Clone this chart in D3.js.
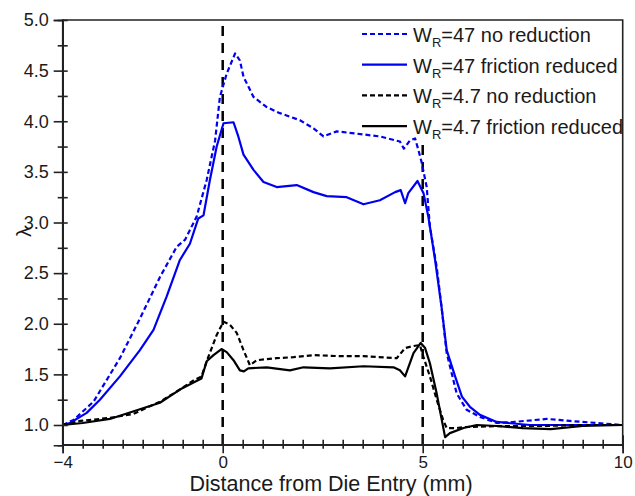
<!DOCTYPE html>
<html><head><meta charset="utf-8">
<script src="https://cdn.jsdelivr.net/npm/d3@7"></script>
<style>body{margin:0;background:#fff}svg{display:block}text{font-family:"Liberation Sans",Arial,sans-serif;fill:#1a1a1a}</style>
</head><body><svg id="c" width="635" height="496"></svg>
<script>
// ---- data ----
const wr47NoRedX = [-4,-3.73,-3.23,-2.57,-2.07,-1.57,-1.15,-0.94,-0.65,-0.4,-0.19,-0.07,0.1,0.31,0.43,0.52,0.77,1.1,1.43,1.93,2.27,2.52,2.85,3.3,3.93,4.43,4.53,4.68,4.81,4.89,4.97,5.1,5.18,5.35,5.47,5.6,5.85,6.1,6.43,6.85,7.27,8.1,8.68,9.35,10];
const wr47NoRedY = [1.0,1.05,1.23,1.66,2.05,2.46,2.76,2.83,3.06,3.42,3.81,4.24,4.47,4.67,4.6,4.44,4.24,4.14,4.08,4.01,3.93,3.85,3.90,3.88,3.85,3.80,3.73,3.81,3.83,3.72,3.60,3.35,2.96,2.56,2.17,1.71,1.31,1.15,1.08,1.02,1.03,1.06,1.04,1.02,1.0];
const wr47RedX = [-4,-3.82,-3.4,-3.07,-2.57,-2.07,-1.73,-1.4,-1.07,-0.82,-0.61,-0.48,-0.32,-0.15,0.02,0.27,0.39,0.52,0.77,1.02,1.35,1.85,2.27,2.6,3.1,3.52,3.93,4.31,4.45,4.56,4.64,4.87,5.02,5.14,5.31,5.47,5.6,5.81,5.98,6.18,6.43,6.85,7.68,10];
const wr47RedY = [1.0,1.02,1.12,1.25,1.48,1.74,1.94,2.27,2.63,2.79,3.04,3.07,3.42,3.75,3.98,3.99,3.85,3.67,3.52,3.40,3.35,3.37,3.30,3.26,3.25,3.18,3.22,3.30,3.32,3.19,3.29,3.41,3.29,3.06,2.63,2.17,1.74,1.48,1.28,1.18,1.10,1.03,1.0,1.0];
const wr4NoRedX = [-4,-3.57,-2.82,-2.23,-1.57,-1.07,-0.73,-0.53,-0.4,-0.15,0.02,0.18,0.35,0.52,0.68,0.85,1.35,1.77,2.27,2.93,3.52,4.35,4.56,4.77,4.93,5.02,5.18,5.35,5.51,5.6,5.85,6.02,7,8,9,10];
const wr4NoRedY = [1.0,1.04,1.07,1.11,1.23,1.35,1.44,1.48,1.63,1.89,2.02,1.99,1.91,1.74,1.59,1.64,1.66,1.67,1.69,1.68,1.68,1.66,1.76,1.78,1.79,1.67,1.48,1.25,1.05,0.97,0.97,0.98,0.99,0.99,1.0,1.0];
const wr4RedX = [-4,-3.5,-2.82,-1.57,-1.07,-0.73,-0.53,-0.4,-0.23,-0.03,0.1,0.27,0.43,0.53,0.64,1.1,1.68,2.02,2.68,3.52,4.27,4.43,4.56,4.77,4.95,5.06,5.18,5.35,5.56,5.68,6.02,6.35,6.85,7.5,8.2,9,10];
const wr4RedY = [1.0,1.02,1.06,1.22,1.35,1.42,1.46,1.63,1.69,1.75,1.72,1.64,1.54,1.53,1.56,1.57,1.54,1.57,1.56,1.58,1.57,1.54,1.48,1.71,1.81,1.76,1.61,1.31,0.88,0.92,0.97,1.0,0.99,0.97,0.96,0.99,1.0];
const seriesWR = ["47","47","4.7","4.7"];
const seriesNames = ["no reduction","friction reduced","no reduction","friction reduced"];
const xMajor = [-4,0,5,10];
const yMajor = [1.0,1.5,2.0,2.5,3.0,3.5,4.0,4.5,5.0];
const refLines = [0,5];
const xTitle = "Distance from Die Entry (mm)";
const yTitle = "λ";

// ---- chart ----
const svg = d3.select("#c");
const L = 62.7, R = 622.7, T = 20, B = 445.25;
const x = d3.scaleLinear().domain([-4,10]).range([L,R]);
const y = d3.scaleLinear().domain([0.8,5.0]).range([B,T]);
const xMinor = d3.range(-4,10.01,0.5).filter(v=>!xMajor.includes(v));
const yMinor = d3.range(1.25,5,0.5);

const series = [
  {xs:wr47NoRedX, ys:wr47NoRedY, color:"#0000f0", dash:"5,3"},
  {xs:wr47RedX, ys:wr47RedY, color:"#0000f0", dash:null},
  {xs:wr4NoRedX, ys:wr4NoRedY, color:"#000", dash:"5,3"},
  {xs:wr4RedX, ys:wr4RedY, color:"#000", dash:null}
];

// reference lines
svg.selectAll("line.ref").data(refLines).join("line").attr("class","ref")
  .attr("x1",d=>x(d)).attr("x2",d=>x(d)).attr("y1",y(5.0)+6).attr("y2",y(0.8))
  .attr("stroke","#000").attr("stroke-width",2.5).attr("stroke-dasharray","10,7");

// legend background
svg.append("rect").attr("x",x(3.3)).attr("y",T+1).attr("width",R-x(3.3)-1).attr("height",118).attr("fill","#fff");

// curves
const line = d3.line().x(d=>x(d[0])).y(d=>y(d[1]));
series.forEach(s=>{
  const pts = s.xs.map((v,i)=>[v,s.ys[i]]);
  svg.append("path").datum(pts).attr("d",line).attr("fill","none")
    .attr("stroke",s.color).attr("stroke-width",2.2)
    .attr("stroke-dasharray",s.dash).attr("stroke-linejoin","round");
});

// frame
svg.append("path").attr("d",`M${L},${B}V${T}H${R}V${B}Z`).attr("fill","none").attr("stroke","#222").attr("stroke-width",1.6);

// axes
const gx = svg.append("g").attr("transform",`translate(0,${B-1})`);
gx.call(d3.axisBottom(x).tickValues(xMajor).tickSize(9).tickPadding(3).tickFormat(d3.format("d")));
gx.selectAll(".tick line").attr("y1",-9).attr("stroke-width",1.6).attr("stroke","#222");
const gxm = svg.append("g").attr("transform",`translate(0,${B-1})`);
gxm.call(d3.axisBottom(x).tickValues(xMinor).tickSize(4.5).tickFormat(""));
gxm.selectAll(".tick line").attr("y1",-4.5).attr("stroke-width",1.6).attr("stroke","#222");
const gy = svg.append("g").attr("transform",`translate(${L},0)`);
gy.call(d3.axisLeft(y).tickValues(yMajor).tickSize(9).tickPadding(5).tickFormat(d3.format(".1f")));
gy.selectAll(".tick line").attr("x1",5).attr("stroke-width",1.6).attr("stroke","#222");
const gym = svg.append("g").attr("transform",`translate(${L},0)`);
gym.call(d3.axisLeft(y).tickValues(yMinor).tickSize(5).tickFormat(""));
gym.selectAll(".tick line").attr("x1",5).attr("stroke-width",1.6).attr("stroke","#222");
[gx,gxm,gy,gym].forEach(g=>{g.select(".domain").attr("stroke","#222").attr("stroke-width",1.6);});
svg.selectAll(".tick text").style("font-size","18px").attr("fill","#1a1a1a").style("font-family","'Liberation Sans',Arial,sans-serif");
gx.selectAll(".tick text").style("font-size","17px");

// titles
svg.append("text").attr("x",331).attr("y",491.3).attr("text-anchor","middle").style("font-size","21.5px").text(xTitle);
svg.append("text").attr("transform","translate(31,232) rotate(-90)").attr("text-anchor","middle").style("font-size","20px").text(yTitle);

// legend
const lg = svg.append("g");
series.forEach((s,i)=>{
  const cy = 34 + 30.7*i;
  lg.append("line").attr("x1",362).attr("x2",407).attr("y1",cy).attr("y2",cy)
    .attr("stroke",s.color).attr("stroke-width",2.2).attr("stroke-dasharray",s.dash);
  const t = lg.append("text").attr("x",413).attr("y",cy+8).style("font-size","20px");
  t.append("tspan").text("W");
  t.append("tspan").attr("dy",5).style("font-size","13px").text("R");
  t.append("tspan").attr("dy",-5).text("=" + seriesWR[i] + " " + seriesNames[i]);
});
</script></body></html>
